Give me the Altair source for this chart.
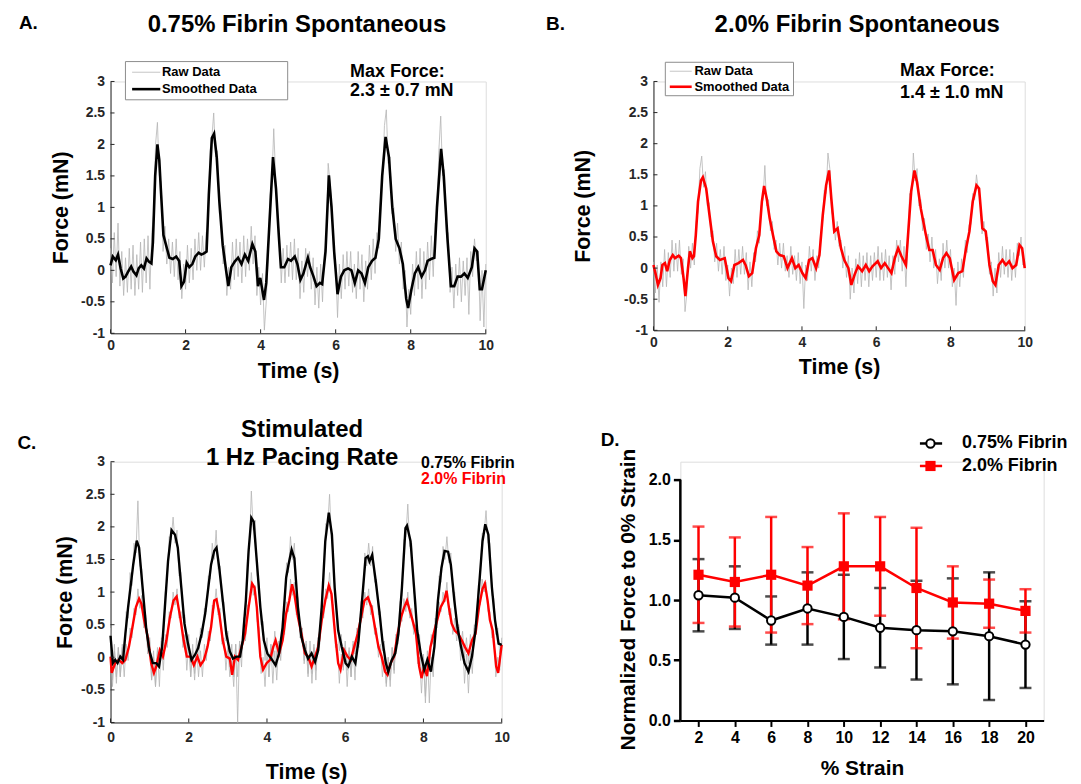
import altair as alt
import pandas as pd

FONT = "Liberation Sans"
DARK = "#262626"
GRAY = "#b4b4b4"
RED = "#ff0000"

# ---------------- tick values ----------------
time_ticks = [0, 2, 4, 6, 8, 10]
force_ticks = [-1, -0.5, 0, 0.5, 1, 1.5, 2, 2.5, 3]
strain_ticks = [2, 4, 6, 8, 10, 12, 14, 16, 18, 20]
norm_ticks = [0, 0.5, 1.0, 1.5, 2.0]

# ---------------- texts ----------------
title_a = "0.75% Fibrin Spontaneous"
title_b = "2.0% Fibrin Spontaneous"
title_c = ["Stimulated", "1 Hz Pacing Rate"]
maxforce_a = ["Max Force:", "2.3 \u00b1 0.7 mN"]
maxforce_b = ["Max Force:", "1.4 \u00b1 1.0 mN"]
legend_names = ["Raw Data", "Smoothed Data"]
group_names = ["0.75% Fibrin", "2.0% Fibrin"]
letters = ["A.", "B.", "C.", "D."]

# ---------------- Panel A (0.75% spontaneous) ----------------
a_smooth_t = [0, 0.06, 0.14, 0.2, 0.27, 0.34, 0.4, 0.48, 0.55, 0.61, 0.69, 0.75, 0.82, 0.89, 0.96, 1.02, 1.09,
              1.13, 1.19, 1.25, 1.3, 1.34, 1.41, 1.48, 1.57, 1.66, 1.75, 1.83, 1.89, 1.96, 2.03, 2.1, 2.18,
              2.26, 2.35, 2.42, 2.49, 2.56, 2.62, 2.7, 2.76, 2.83, 2.9, 2.99, 3.08, 3.14, 3.22, 3.31, 3.4,
              3.49, 3.58, 3.67, 3.78, 3.86, 3.93, 3.99, 4.09, 4.15, 4.24, 4.33, 4.41, 4.48, 4.54, 4.63, 4.73,
              4.81, 4.91, 4.98, 5.06, 5.14, 5.26, 5.32, 5.41, 5.49, 5.58, 5.64, 5.73, 5.82, 5.89, 5.96, 6.05,
              6.14, 6.23, 6.33, 6.42, 6.51, 6.6, 6.69, 6.78, 6.87, 6.97, 7.06, 7.15, 7.24, 7.33, 7.42, 7.51,
              7.6, 7.7, 7.79, 7.88, 7.93, 8.02, 8.11, 8.2, 8.29, 8.38, 8.45, 8.54, 8.63, 8.7, 8.81, 8.88,
              8.98, 9.07, 9.16, 9.25, 9.34, 9.43, 9.52, 9.63, 9.7, 9.77, 9.84, 9.9, 10.0]
a_smooth_v = [0.08, 0.22, 0.16, 0.25, 0.03, -0.13, -0.1, -0.01, 0.06, -0.02, -0.08, 0.03, 0.08, 0.03, 0.19, 0.14, 0.11,
              0.45, 1.5, 2.0, 1.75, 1.3, 0.56, 0.4, 0.2, 0.18, 0.22, 0.15, -0.25, -0.18, 0.12, 0.05, 0.1,
              0.22, 0.28, 0.25, 0.27, 0.3, 1.2, 2.1, 2.17, 1.8, 1.1, 0.4, 0.0, -0.25, 0.05, 0.14, 0.2,
              0.1, 0.25, 0.15, 0.42, 0.3, -0.25, -0.12, -0.47, -0.2, 0.8, 1.8, 1.3, 0.6, 0.05, 0.05, 0.18,
              0.15, 0.22, 0.1, -0.15, -0.05, 0.2, 0.05, -0.1, -0.25, -0.2, -0.22, 0.3, 1.51, 1.0, 0.3, -0.38,
              -0.1, 0.0, 0.03, 0.0, -0.2, 0.0, -0.05, -0.2, 0.05, 0.15, 0.2, 0.5, 1.5, 2.12, 1.8, 1.0,
              0.5, 0.35, 0.1, -0.45, -0.6, -0.3, -0.05, 0.05, -0.1, 0.0, 0.15, 0.18, 0.2, 1.0, 1.93, 1.5,
              0.5, -0.25, -0.25, -0.1, -0.1, -0.05, -0.12, 0.05, 0.35, 0.3, -0.3, -0.3, 0.0]
a_raw_v = [0.35, -0.2, 0.6, -0.1, 0.75, -0.25, 0.3, -0.4, 0.2, -0.35,
           0.35, -0.3, 0.4, -0.4, 0.25, -0.3, 0.45, -0.35, 0.5, -0.2,
           0.55, -0.3, 0.6, 0.9, 2.0, 2.35, 1.5, 1.4, 0.3, 0.7,
           0.1, 0.5, -0.05, 0.45, -0.1, 0.5, -0.15, 0.3, -0.45, 0.1,
           -0.3, 0.4, -0.2, 0.35, -0.15, 0.5, 0.0, 0.6, 0.0, 0.55,
           0.05, 0.6, 0.7, 1.9, 2.1, 2.5, 1.8, 1.9, 0.9, 0.95,
           0.1, 0.4, -0.4, 0.05, -0.3, 0.45, -0.15, 0.5, -0.1, 0.45,
           -0.2, 0.55, -0.1, 0.5, 0.0, 0.7, 0.1, 0.55, -0.4, 0.05,
           -0.55, -0.05, -0.95, -0.5, 0.2, 1.2, 1.4, 2.25, 1.5, 0.8,
           0.6, -0.2, 0.35, -0.2, 0.4, -0.1, 0.45, -0.15, 0.5, -0.15,
           0.35, -0.45, 0.15, -0.35, 0.35, -0.1, 0.3, -0.3, 0.2, -0.55,
           0.05, -0.6, 0.1, -0.5, 0.3, 0.4, 1.7, 1.4, 1.0, 0.2,
           0.1, -0.75, 0.1, -0.45, 0.25, -0.3, 0.3, -0.25, 0.3, -0.35,
           0.1, -0.45, 0.3, -0.3, 0.25, -0.5, 0.15, -0.3, 0.4, -0.15,
           0.5, -0.05, 0.6, 0.35, 1.2, 1.5, 2.3, 2.55, 1.7, 1.8,
           0.9, 1.0, 0.3, 0.75, 0.1, 0.45, -0.3, 0.0, -0.9, -0.3,
           -0.7, 0.1, -0.4, 0.3, -0.3, 0.35, -0.45, 0.3, -0.3, 0.45,
           -0.15, 0.55, -0.1, 0.75, 0.8, 1.9, 2.45, 1.5, 1.6, 0.6,
           0.6, -0.35, 0.05, -0.6, 0.1, -0.4, 0.2, -0.5, 0.15, -0.4,
           0.2, -0.7, 0.3, -0.1, 0.5, 0.15, 0.3, -0.8, 0.0, -0.9,
           0.1]

# ---------------- Panel B (2.0% spontaneous) ----------------
b_smooth_t = [0, 0.06, 0.12, 0.19, 0.24, 0.31, 0.37, 0.44, 0.52, 0.58, 0.68, 0.74, 0.81, 0.86, 0.93, 0.98, 1.05,
              1.09, 1.14, 1.2, 1.28, 1.33, 1.42, 1.51, 1.6, 1.69, 1.79, 1.92, 2.02, 2.09, 2.18, 2.29, 2.41,
              2.48, 2.57, 2.66, 2.76, 2.85, 2.92, 2.98, 3.05, 3.13, 3.22, 3.31, 3.4, 3.51, 3.61, 3.73, 3.82,
              3.91, 4.01, 4.1, 4.19, 4.28, 4.38, 4.47, 4.56, 4.65, 4.73, 4.79, 4.87, 4.96, 5.05, 5.14, 5.25,
              5.33, 5.42, 5.51, 5.62, 5.72, 5.81, 5.9, 6.04, 6.13, 6.23, 6.32, 6.41, 6.5, 6.59, 6.68, 6.8,
              6.87, 6.94, 7.03, 7.1, 7.2, 7.34, 7.43, 7.52, 7.61, 7.71, 7.8, 7.89, 7.98, 8.1, 8.21, 8.32,
              8.42, 8.51, 8.6, 8.7, 8.77, 8.86, 8.95, 9.05, 9.14, 9.21, 9.3, 9.4, 9.49, 9.58, 9.67, 9.77,
              9.86, 9.93, 10.0]
b_smooth_v = [0.05, -0.1, -0.27, -0.16, 0.05, 0.08, -0.05, 0.13, 0.21, 0.16, 0.2, 0.16, -0.16, -0.45, 0.0, 0.27, 0.16,
              0.19, 0.53, 1.07, 1.41, 1.46, 1.28, 0.85, 0.43, 0.19, 0.13, 0.16, -0.16, -0.21, 0.05, 0.08, 0.13,
              0.05, -0.13, -0.08, 0.32, 0.53, 1.07, 1.32, 1.12, 0.8, 0.53, 0.27, 0.21, 0.19, 0.0, 0.16, 0.0,
              0.05, -0.08, -0.16, 0.13, 0.16, 0.0, 0.21, 0.85, 1.33, 1.57, 1.12, 0.59, 0.64, 0.32, 0.13, 0.0,
              -0.27, -0.1, 0.03, -0.05, 0.05, -0.05, 0.03, 0.11, 0.0, 0.08, 0.0, -0.08, 0.16, 0.32, 0.19, 0.05,
              0.64, 1.23, 1.57, 1.38, 0.96, 0.53, 0.29, 0.29, 0.05, -0.03, 0.16, 0.24, 0.16, -0.19, -0.08, -0.05,
              0.32, 0.59, 1.07, 1.33, 1.28, 0.64, 0.59, 0.05, -0.21, -0.27, 0.05, 0.13, 0.05, 0.11, 0.0, 0.05,
              0.37, 0.32, 0.0]
b_raw_v = [0.1, -0.4, 0.05, -0.55, 0.1, -0.3, 0.3, -0.3, 0.25, -0.15,
           0.45, -0.05, 0.4, -0.05, 0.45, -0.1, 0.15, -0.7, -0.4, 0.35,
           0.0, 0.4, 0.05, 0.75, 0.9, 1.6, 1.8, 1.3, 1.55, 1.0,
           1.05, 0.5, 0.6, 0.1, 0.4, -0.05, 0.3, -0.1, 0.35, -0.2,
           0.05, -0.45, 0.0, -0.25, 0.3, -0.15, 0.3, -0.1, 0.35, -0.1,
           0.25, -0.35, 0.1, -0.3, 0.25, 0.1, 0.6, 0.4, 1.0, 1.1,
           1.65, 1.0, 1.1, 0.6, 0.75, 0.3, 0.45, 0.05, 0.4, 0.0,
           0.4, -0.05, 0.2, -0.15, 0.35, -0.1, 0.2, -0.2, 0.25, -0.25,
           0.1, -0.65, 0.05, -0.2, 0.35, -0.05, 0.3, -0.2, 0.2, 0.0,
           0.55, 0.7, 1.25, 1.2, 1.85, 1.6, 0.9, 0.8, 0.45, 0.75,
           0.35, 0.45, 0.0, 0.35, -0.15, 0.2, -0.5, 0.0, -0.4, 0.15,
           -0.25, 0.25, -0.3, 0.2, -0.2, 0.25, -0.3, 0.2, -0.2, 0.25,
           -0.15, 0.35, -0.2, 0.25, -0.2, 0.3, -0.15, 0.2, -0.35, 0.2,
           -0.1, 0.45, 0.1, 0.45, -0.05, 0.35, -0.3, 0.4, 1.2, 1.1,
           1.85, 1.4, 1.6, 1.0, 1.1, 0.6, 0.8, 0.3, 0.55, 0.1,
           0.5, 0.0, 0.3, -0.25, 0.15, -0.2, 0.4, 0.0, 0.45, 0.0,
           0.3, -0.3, 0.0, -0.6, 0.1, -0.3, 0.15, -0.15, 0.45, 0.25,
           0.7, 0.7, 1.2, 1.1, 1.5, 1.25, 1.1, 0.55, 0.75, 0.45,
           0.5, -0.1, 0.1, -0.45, 0.0, -0.4, 0.25, -0.15, 0.35, -0.1,
           0.3, -0.15, 0.3, -0.2, 0.25, -0.15, 0.4, 0.2, 0.5, 0.05,
           0.15]

# ---------------- Panel C (stimulated, 1 Hz) ----------------
c075_smooth_t = [0, 0.06, 0.12, 0.18, 0.25, 0.32, 0.38, 0.45, 0.51, 0.58, 0.67, 0.73, 0.82, 0.91, 0.99, 1.08, 1.17,
                 1.24, 1.32, 1.39, 1.47, 1.56, 1.65, 1.72, 1.81, 1.89, 1.98, 2.07, 2.16, 2.24, 2.33, 2.42, 2.48,
                 2.57, 2.65, 2.71, 2.78, 2.87, 2.96, 3.05, 3.13, 3.22, 3.31, 3.38, 3.46, 3.53, 3.6, 3.66, 3.74,
                 3.83, 3.92, 4.01, 4.11, 4.22, 4.31, 4.4, 4.49, 4.55, 4.63, 4.7, 4.79, 4.88, 4.97, 5.05, 5.14,
                 5.23, 5.31, 5.4, 5.49, 5.58, 5.66, 5.73, 5.82, 5.91, 6.01, 6.08, 6.17, 6.26, 6.34, 6.43, 6.52,
                 6.58, 6.62, 6.69, 6.78, 6.87, 6.95, 7.04, 7.1, 7.19, 7.28, 7.36, 7.45, 7.54, 7.58, 7.67, 7.76,
                 7.84, 7.93, 8.02, 8.1, 8.19, 8.28, 8.37, 8.46, 8.54, 8.63, 8.7, 8.79, 8.87, 8.96, 9.05, 9.15,
                 9.24, 9.33, 9.42, 9.51, 9.58, 9.66, 9.75, 9.83, 9.92, 10.0]
c075_smooth_v = [0.33, -0.09, -0.04, -0.09, 0.01, -0.04, 0.36, 0.77, 1.07, 1.42, 1.79, 1.68, 1.07, 0.46, 0.11, -0.09, -0.09,
                 -0.14, 0.16, 0.77, 1.47, 1.95, 1.88, 1.68, 1.07, 0.52, 0.21, -0.04, 0.04, 0.14, 0.36, 0.67, 0.97,
                 1.42, 1.63, 1.68, 1.37, 0.87, 0.36, 0.09, -0.02, 0.01, 0.01, 0.26, 0.87, 1.63, 2.14, 2.08, 1.47,
                 0.77, 0.26, 0.06, -0.02, -0.12, 0.06, 0.46, 1.22, 1.42, 1.65, 1.52, 0.77, 0.31, 0.11, -0.02, 0.06,
                 -0.07, 0.11, 0.77, 1.78, 2.22, 1.88, 1.07, 0.41, 0.16, -0.09, -0.14, 0.01, -0.09, 0.26, 0.87, 1.52,
                 1.55, 1.47, 1.57, 1.17, 0.72, 0.26, -0.09, -0.22, -0.04, 0.06, 0.36, 1.07, 1.98, 2.02, 1.78, 1.07,
                 0.41, 0.06, -0.19, -0.04, -0.22, 0.16, 0.87, 1.37, 1.63, 1.62, 1.42, 0.87, 0.46, 0.16, -0.09, -0.22,
                 0.01, 0.41, 1.07, 1.78, 2.04, 1.88, 1.07, 0.57, 0.21, 0.19]
c20_smooth_t = [0, 0.03, 0.12, 0.21, 0.3, 0.38, 0.47, 0.56, 0.65, 0.73, 0.79, 0.86, 0.95, 1.04, 1.11, 1.17, 1.26,
                1.34, 1.43, 1.52, 1.61, 1.69, 1.78, 1.87, 1.95, 2.04, 2.13, 2.22, 2.3, 2.39, 2.48, 2.57, 2.65,
                2.71, 2.78, 2.87, 2.96, 3.05, 3.11, 3.18, 3.26, 3.35, 3.44, 3.53, 3.62, 3.68, 3.74, 3.83, 3.9,
                3.99, 4.08, 4.16, 4.22, 4.31, 4.4, 4.49, 4.57, 4.64, 4.7, 4.79, 4.88, 4.97, 5.05, 5.14, 5.23,
                5.31, 5.4, 5.49, 5.58, 5.65, 5.74, 5.82, 5.88, 5.97, 6.06, 6.14, 6.23, 6.32, 6.41, 6.49, 6.58,
                6.67, 6.76, 6.85, 6.93, 7.02, 7.08, 7.16, 7.25, 7.34, 7.43, 7.51, 7.58, 7.65, 7.72, 7.81, 7.89,
                7.95, 8.02, 8.09, 8.18, 8.26, 8.35, 8.44, 8.53, 8.59, 8.65, 8.72, 8.8, 8.89, 8.98, 9.06, 9.15,
                9.24, 9.33, 9.42, 9.51, 9.57, 9.64, 9.7, 9.77, 9.86, 9.91, 10.0]
c20_smooth_v = [0.01, -0.24, -0.09, -0.04, -0.09, -0.04, 0.16, 0.46, 0.77, 0.9, 0.82, 0.57, 0.31, -0.09, -0.24, -0.14, 0.11,
                0.01, 0.26, 0.62, 0.87, 0.93, 0.62, 0.26, 0.01, 0.01, -0.12, 0.01, -0.12, -0.04, 0.16, 0.46, 0.87,
                0.89, 0.67, 0.26, 0.01, -0.02, -0.27, 0.01, -0.04, 0.16, 0.36, 0.77, 1.13, 1.07, 0.77, 0.01, -0.19,
                -0.09, -0.04, 0.16, 0.26, 0.06, 0.26, 0.67, 0.87, 1.12, 0.97, 0.62, 0.36, 0.06, 0.01, -0.14, 0.01,
                0.16, 0.57, 0.87, 1.1, 0.97, 0.36, -0.09, -0.19, 0.11, 0.01, -0.04, 0.16, 0.36, 0.62, 0.87, 0.92,
                0.77, 0.46, 0.16, 0.01, -0.22, -0.27, -0.09, 0.01, 0.36, 0.62, 0.77, 0.87, 0.72, 0.57, 0.36, -0.14,
                -0.32, -0.14, -0.29, 0.16, 0.36, 0.57, 0.77, 0.87, 1.02, 0.77, 0.52, 0.41, 0.36, 0.26, 0.16, 0.06,
                0.26, 0.36, 0.77, 1.05, 1.13, 0.87, 0.57, 0.41, -0.14, -0.24, 0.19]
c075_raw_v = [0.45, -0.35, 0.2, -0.4, 0.15, -0.3, 0.2, -0.1, 0.7, 0.6,
              1.3, 1.1, 1.75, 1.6, 2.4, 1.4, 1.35, 0.7, 0.65, 0.05,
              0.3, -0.35, 0.1, -0.45, 0.1, -0.45, 0.3, 0.25, 1.0, 1.2,
              1.85, 1.8, 2.15, 1.75, 1.95, 1.25, 1.3, 0.6, 0.65, 0.05,
              0.35, -0.3, 0.2, -0.25, 0.3, -0.05, 0.45, 0.3, 0.75, 0.7,
              1.25, 1.2, 1.75, 1.5, 1.95, 1.35, 1.4, 0.85, 0.85, 0.25,
              0.4, -0.15, 0.2, -0.3, 0.2, -1.0, 0.2, -0.15, 0.6, 0.65,
              1.5, 1.7, 2.55, 1.95, 2.1, 1.25, 1.15, 0.5, 0.55, -0.05,
              0.3, -0.3, 0.2, -0.4, 0.1, -0.35, 0.25, 0.1, 0.65, 0.8,
              1.45, 1.3, 1.85, 1.5, 1.75, 1.0, 0.9, 0.3, 0.45, -0.05,
              0.25, -0.3, 0.25, -0.25, 0.2, -0.35, 0.3, 0.25, 0.95, 1.2,
              2.05, 2.0, 2.5, 1.8, 1.55, 0.8, 0.65, 0.1, 0.35, -0.2,
              0.15, -0.45, 0.1, -0.3, 0.2, -0.35, 0.3, 0.15, 0.85, 0.9,
              1.6, 1.4, 1.75, 1.4, 1.7, 1.15, 1.2, 0.65, 0.7, 0.1,
              0.25, -0.4, 0.0, -0.45, 0.15, -0.25, 0.35, 0.2, 0.85, 0.95,
              1.8, 1.85, 2.35, 1.7, 1.75, 1.0, 0.9, 0.2, 0.35, -0.3,
              0.05, -0.6, 0.1, -0.7, 0.0, -0.3, 0.5, 0.6, 1.25, 1.15,
              1.7, 1.5, 1.85, 1.45, 1.6, 1.0, 1.0, 0.4, 0.5, -0.05,
              0.25, -0.4, 0.05, -0.55, 0.1, -0.25, 0.45, 0.4, 1.1, 1.2,
              1.9, 1.9, 2.25, 1.75, 1.75, 0.95, 0.9, 0.35, 0.45, 0.05,
              0.25]
c20_raw_v = [0.2, -0.45, 0.1, -0.3, 0.15, -0.3, 0.15, -0.3, 0.2, -0.05,
             0.45, 0.3, 0.75, 0.65, 1.05, 0.75, 0.95, 0.45, 0.6, 0.15,
             0.3, -0.35, 0.0, -0.45, 0.15, -0.1, 0.25, -0.2, 0.35, 0.15,
             0.7, 0.6, 1.0, 0.8, 1.05, 0.6, 0.7, 0.15, 0.35, -0.2,
             0.2, -0.3, 0.1, -0.35, 0.15, -0.3, 0.1, -0.3, 0.2, -0.05,
             0.4, 0.25, 0.8, 0.75, 1.05, 0.65, 0.75, 0.2, 0.3, -0.2,
             0.15, -0.3, -0.05, -0.45, 0.2, -0.3, 0.25, 0.0, 0.45, 0.25,
             0.8, 0.8, 1.3, 0.95, 1.1, 0.55, 0.45, -0.25, 0.0, -0.45,
             0.1, -0.3, 0.2, -0.05, 0.4, 0.0, 0.25, -0.05, 0.4, 0.35,
             0.85, 0.7, 1.2, 0.95, 1.15, 0.65, 0.75, 0.3, 0.45, -0.1,
             0.2, -0.25, 0.1, -0.4, 0.15, -0.2, 0.3, 0.2, 0.7, 0.6,
             1.05, 0.9, 1.3, 0.85, 0.8, 0.15, 0.2, -0.4, 0.05, -0.15,
             0.25, -0.2, 0.15, -0.3, 0.25, 0.05, 0.45, 0.3, 0.75, 0.6,
             1.0, 0.8, 1.05, 0.65, 0.8, 0.35, 0.45, 0.0, 0.2, -0.3,
             0.0, -0.45, 0.0, -0.35, 0.15, -0.2, 0.35, 0.25, 0.7, 0.55,
             0.9, 0.7, 1.0, 0.6, 0.75, 0.35, 0.5, -0.1, 0.0, -0.55,
             0.0, -0.7, -0.05, -0.2, 0.35, 0.2, 0.6, 0.45, 0.85, 0.7,
             1.0, 0.85, 1.15, 0.65, 0.75, 0.35, 0.6, 0.25, 0.5, 0.15,
             0.4, 0.0, 0.3, -0.1, 0.35, 0.15, 0.5, 0.4, 0.85, 0.8,
             1.2, 1.0, 1.15, 0.7, 0.7, 0.3, 0.35, -0.3, 0.0, -0.2,
             0.3]

# ---------------- Panel D (strain) ----------------
strain = [2, 4, 6, 8, 10, 12, 14, 16, 18, 20]
f075_mean = [1.04, 1.02, 0.83, 0.93, 0.86, 0.77, 0.75, 0.74, 0.70, 0.63]
f075_sd = [0.30, 0.26, 0.20, 0.30, 0.35, 0.33, 0.41, 0.44, 0.53, 0.36]
f20_mean = [1.21, 1.15, 1.21, 1.12, 1.28, 1.28, 1.10, 0.98, 0.97, 0.91]
f20_sd = [0.40, 0.37, 0.48, 0.32, 0.44, 0.41, 0.50, 0.30, 0.20, 0.18]


# ======================= helpers =======================
def sample_times(vals):
    n = len(vals)
    return [10.0 * i / (n - 1) for i in range(n)]


def frame(ts, vs, name):
    return pd.DataFrame({"t": ts, "v": vs, "series": name})


ONE = pd.DataFrame({"a": [0]})


def trace_x(w, label_pad, title_y):
    return alt.X("t:Q", scale=alt.Scale(domain=[0, 10], nice=False, zero=False),
                 axis=alt.Axis(values=time_ticks, title="Time (s)", tickSize=0, labelFlush=False,
                               labelOverlap=False, labelFont=FONT, labelFontSize=14, labelFontWeight="bold",
                               labelColor=DARK, labelPadding=label_pad, domainColor=DARK, domainWidth=1,
                               grid=False, titleFont=FONT, titleFontSize=21.5, titleFontWeight="bold",
                               titleColor="black", titleX=w / 2, titleY=title_y, titleBaseline="middle",
                               titleAlign="center", titleAngle=0))


def trace_y(h, title_x):
    return alt.Y("v:Q", scale=alt.Scale(domain=[-1, 3], nice=False, zero=False),
                 axis=alt.Axis(values=force_ticks, labelExpr="datum.value + ''", title="Force (mN)",
                               tickSize=0, labelOverlap=False, labelFont=FONT, labelFontSize=14,
                               labelFontWeight="bold", labelColor=DARK, labelPadding=6, domainColor=DARK,
                               domainWidth=1, grid=False, titleFont=FONT, titleFontSize=21.5,
                               titleFontWeight="bold", titleColor="black", titleX=title_x, titleY=h / 2,
                               titleBaseline="middle", titleAlign="center", titleAngle=-90))


def inward_ticks(x, y, h):
    # short inward tick marks (MATLAB style), positioned through the same scales/axes
    yt = alt.Chart(pd.DataFrame({"v": force_ticks})).mark_rule(color=DARK, strokeWidth=1).encode(
        y=y, x=alt.value(0), x2=alt.value(4))
    xt = alt.Chart(pd.DataFrame({"t": time_ticks})).mark_rule(color=DARK, strokeWidth=1).encode(
        x=x, y=alt.value(h), y2=alt.value(h - 4))
    return [yt, xt]


def label(text, x, y, size, color="black", align="left"):
    return alt.Chart(pd.DataFrame({"label": [text]})).mark_text(
        font=FONT, fontSize=size, fontWeight="bold", color=color, align=align, baseline="middle"
    ).encode(x=alt.value(x), y=alt.value(y), text="label:N")


def line_legend(box, line_x, rows_y, label_x, smooth_color):
    x1, x2, y1, y2 = box
    out = [alt.Chart(ONE).mark_rect(fill="white", stroke="#8c8c8c", strokeWidth=1).encode(
        x=alt.value(x1), x2=alt.value(x2), y=alt.value(y1), y2=alt.value(y2))]
    for name, yy, col, sw in zip(legend_names, rows_y, [GRAY, smooth_color], [0.8, 2.6]):
        out.append(alt.Chart(ONE).mark_rule(color=col, strokeWidth=sw).encode(
            x=alt.value(line_x[0]), x2=alt.value(line_x[1]), y=alt.value(yy)))
        out.append(label(name, label_x, yy, 13))
    return out


def spont_panel(w, h, smooth_t, smooth_v, raw_v, smooth_color, label_pad, xtitle_y, ytitle_x):
    x = trace_x(w, label_pad, xtitle_y)
    y = trace_y(h, ytitle_x)
    raw_l = alt.Chart(frame(sample_times(raw_v), raw_v, "raw")).mark_line(
        color=GRAY, strokeWidth=0.8).encode(x=x, y=y)
    sm_l = alt.Chart(frame(smooth_t, smooth_v, "smooth")).mark_line(
        color=smooth_color, strokeWidth=2.6).encode(x=x, y=y)
    return [raw_l, sm_l] + inward_ticks(x, y, h)


# ======================= Panel A =======================
WA, HA = 377, 253
a_layers = spont_panel(WA, HA, a_smooth_t, a_smooth_v, a_raw_v, "black", 5, 38.7, -49.7) + \
    line_legend((15, 178, -20, 18.4), (21.7, 50), (-9.3, 7.7), 51.7, "black") + [
    label(title_a, 187.3, -56.6, 24, align="center"),
    label(letters[0], -92, -58.3, 19),
    label(maxforce_a[0], 240.7, -10, 18),
    label(maxforce_a[1], 240.7, 10, 18),
    # invisible spacer so both rows share the same left edge
    alt.Chart(ONE).mark_rule(opacity=0).encode(x=alt.value(-99.5), x2=alt.value(-99), y=alt.value(0)),
]
panel_a = alt.layer(*a_layers).properties(width=WA, height=HA)

# ======================= Panel B =======================
WB, HB = 373, 250
b_layers = spont_panel(WB, HB, b_smooth_t, b_smooth_v, b_raw_v, RED, 5, 37, -70) + \
    line_legend((11.9, 140.7, -19.3, 14.3), (16.4, 38.4), (-10.3, 5.3), 41.2, RED) + [
    label(title_b, 204.7, -56.3, 24, align="center"),
    label(letters[1], -108, -58, 19),
    label(maxforce_b[0], 247.8, -10.3, 18),
    label(maxforce_b[1], 247.8, 11.3, 18),
]
panel_b = alt.layer(*b_layers).properties(width=WB, height=HB)

# ======================= Panel C =======================
WC, HC = 393, 262
cx = trace_x(WC, 8, 50.7)
cy = trace_y(HC, -45.3)
c_layers = [
    alt.Chart(frame(sample_times(c075_raw_v), c075_raw_v, "raw075")).mark_line(
        color=GRAY, strokeWidth=0.8).encode(x=cx, y=cy),
    alt.Chart(frame(sample_times(c20_raw_v), c20_raw_v, "raw20")).mark_line(
        color=GRAY, strokeWidth=0.8).encode(x=cx, y=cy),
    alt.Chart(frame(c20_smooth_t, c20_smooth_v, "s20")).mark_line(
        color=RED, strokeWidth=2.4).encode(x=cx, y=cy),
    alt.Chart(frame(c075_smooth_t, c075_smooth_v, "s075")).mark_line(
        color="black", strokeWidth=2.4).encode(x=cx, y=cy),
] + inward_ticks(cx, cy, HC) + [
    label(title_c[0], 192.5, -32.3, 24, align="center"),
    label(title_c[1], 192.5, -4, 24, align="center"),
    label(letters[2], -93.5, -19, 19),
    label(group_names[0], 312, 1.5, 16),
    label(group_names[1], 312, 17.5, 16, color=RED),
]
panel_c = alt.layer(*c_layers).properties(width=WC, height=HC)

# ======================= Panel D =======================
WD, HD = 365, 260
YMAX = 2.0 * HD / 242.0
d075 = pd.DataFrame({"strain": strain, "mean": f075_mean, "sd": f075_sd})
d20 = pd.DataFrame({"strain": strain, "mean": f20_mean, "sd": f20_sd})
for d in (d075, d20):
    d["lo"] = d["mean"] - d["sd"]
    d["hi"] = d["mean"] + d["sd"]


def caps(d):
    return pd.DataFrame({"strain": list(d["strain"]) * 2, "cap": list(d["lo"]) + list(d["hi"])})


dx = alt.X("strain:Q", scale=alt.Scale(domain=[1, 21], nice=False, zero=False),
           axis=alt.Axis(values=strain_ticks, format="d", title="%  Strain", tickSize=6, tickWidth=2,
                         tickColor="black", domainColor="black", domainWidth=2, grid=False,
                         labelOverlap=False, labelFont=FONT, labelFontSize=16, labelFontWeight="bold",
                         labelColor="black", labelPadding=3, titleFont=FONT, titleFontSize=21,
                         titleFontWeight="bold", titleColor="black", titleX=WD / 2, titleY=48,
                         titleBaseline="middle", titleAlign="center", titleAngle=0))
yaxis = alt.Axis(values=norm_ticks, format=".1f", title="Normalized Force to 0% Strain", domain=False,
                 tickSize=7, tickWidth=2.5, tickColor="black", grid=False, labelOverlap=False, labelFont=FONT,
                 labelFontSize=16, labelFontWeight="bold", labelColor="black", labelPadding=3,
                 titleFont=FONT, titleFontSize=21, titleFontWeight="bold", titleColor="black",
                 titleX=-52, titleY=138, titleBaseline="middle", titleAngle=-90, titleAlign="center")
yscale = alt.Scale(domain=[0, YMAX], nice=False, zero=False)


def dy(field):
    return alt.Y(field, scale=yscale, axis=yaxis)


def err_layers(d, color):
    bar = alt.Chart(d).mark_rule(color=color, strokeWidth=2.5).encode(x=dx, y=dy("lo:Q"), y2="hi:Q")
    cap = alt.Chart(caps(d)).mark_tick(color=color, orient="horizontal", size=12, thickness=2.5).encode(
        x=dx, y=dy("cap:Q"))
    return [bar, cap]


d_axis_line = alt.Chart(ONE).mark_rule(color="black", strokeWidth=2.5).encode(
    x=alt.value(0), y=alt.datum(0, scale=yscale), y2=alt.datum(2.0))

d_layers = err_layers(d075, "black") + err_layers(d20, RED) + [
    alt.Chart(d075).mark_line(color="black", strokeWidth=2.5).encode(x=dx, y=dy("mean:Q")),
    alt.Chart(d075).mark_point(shape="circle", filled=True, fill="white", stroke="black", strokeWidth=2,
                               size=70, opacity=1).encode(x=dx, y=dy("mean:Q")),
    alt.Chart(d20).mark_line(color=RED, strokeWidth=2.5).encode(x=dx, y=dy("mean:Q")),
    alt.Chart(d20).mark_point(shape="square", filled=True, color=RED, size=105, opacity=1).encode(
        x=dx, y=dy("mean:Q")),
    d_axis_line,
    # legend
    alt.Chart(ONE).mark_rule(color="black", strokeWidth=2.5).encode(
        x=alt.value(240.7), x2=alt.value(263), y=alt.value(-18.3)),
    alt.Chart(ONE).mark_point(shape="circle", filled=True, fill="white", stroke="black",
                              strokeWidth=2, size=70, opacity=1).encode(x=alt.value(251.3), y=alt.value(-18.3)),
    alt.Chart(ONE).mark_rule(color=RED, strokeWidth=2.5).encode(
        x=alt.value(240.7), x2=alt.value(263), y=alt.value(4.3)),
    alt.Chart(ONE).mark_point(shape="square", filled=True, color=RED, size=105,
                              opacity=1).encode(x=alt.value(251.3), y=alt.value(4.3)),
    label(group_names[0], 283, -18.3, 18),
    label(group_names[1], 283, 4.3, 18),
    label(letters[3], -80, -22, 19),
]
panel_d = alt.layer(*d_layers).properties(width=WD, height=HD)

# ======================= layout =======================
top = alt.hconcat(panel_a, panel_b, spacing=168.5, bounds="flush")
bottom = alt.hconcat(panel_c, panel_d, spacing=179.5, bounds="flush")
chart = alt.vconcat(top, bottom, spacing=34, bounds="full").properties(
    padding={"left": 3, "top": 2, "right": 4, "bottom": 0}
).configure_view(strokeWidth=0).configure(background="white")

chart.save("out.html", embed_options={"renderer": "svg", "actions": False})
